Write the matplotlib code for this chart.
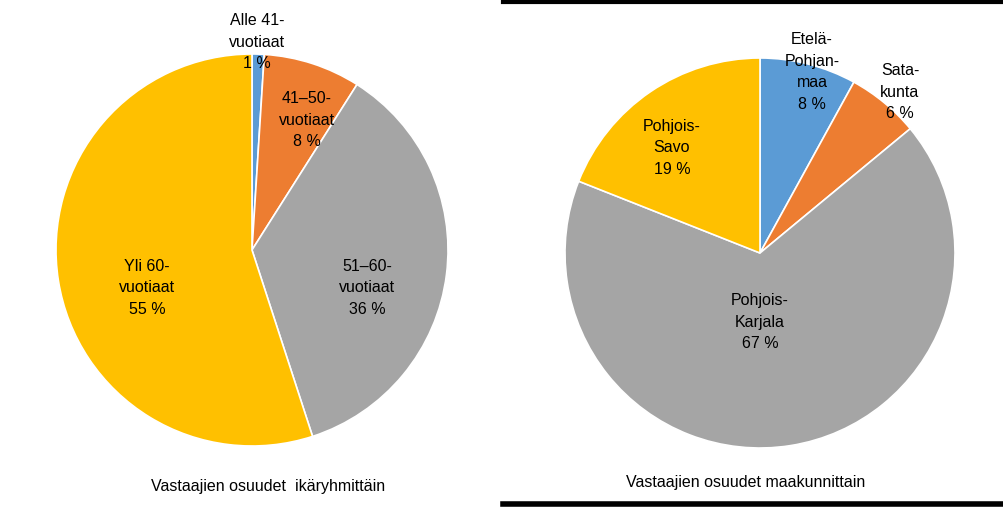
import matplotlib.pyplot as plt

age_labels = ["Alle 41-\nvuotiaat\n1 %", "41–50-\nvuotiaat\n8 %", "51–60-\nvuotiaat\n36 %", "Yli 60-\nvuotiaat\n55 %"]
age_values = [1, 8, 36, 55]
region_labels = ["Etelä-\nPohjan-\nmaa\n8 %", "Sata-\nkunta\n6 %", "Pohjois-\nKarjala\n67 %", "Pohjois-\nSavo\n19 %"]
region_values = [8, 6, 67, 19]
colors = ["#5B9BD5", "#ED7D31", "#A5A5A5", "#FFC000"]

H = 507
fig = plt.figure(figsize=(10.04, 5.07), dpi=100)
ax = fig.add_axes([0, 0, 1, 1])

ax.pie(age_values, colors=colors, startangle=90, counterclock=False,
       center=(252, H - 250), radius=196, wedgeprops=dict(linewidth=1.2, edgecolor="white"))
ax.pie(region_values, colors=colors, startangle=90, counterclock=False,
       center=(760, H - 253), radius=195, wedgeprops=dict(linewidth=1.2, edgecolor="white"))
ax.set_xlim(0, 1004)
ax.set_ylim(0, H)
ax.set_aspect("equal")
ax.axis("off")

font = dict(family="Liberation Sans", fontsize=11.5, ha="center", va="center", linespacing=1.55)
age_pos = [(257, 42), (307, 120), (367, 288), (147, 288)]
for lab, (x, y) in zip(age_labels, age_pos):
    ax.text(x, H - y, lab, **font)
region_pos = [(812, 72), (900, 92), (760, 322), (672, 148)]
for lab, (x, y) in zip(region_labels, region_pos):
    ax.text(x, H - y, lab, **font)

ax.text(268, H - 487, "Vastaajien osuudet  ikäryhmittäin", **font)
ax.text(746, H - 483, "Vastaajien osuudet maakunnittain", **font)

# border of the right panel
ax.plot([503, 1004], [H - 1.5, H - 1.5], color="black", lw=3, clip_on=False)
ax.plot([503, 1004], [2.5, 2.5], color="black", lw=4, clip_on=False)

fig.savefig("out.png", dpi=100)
